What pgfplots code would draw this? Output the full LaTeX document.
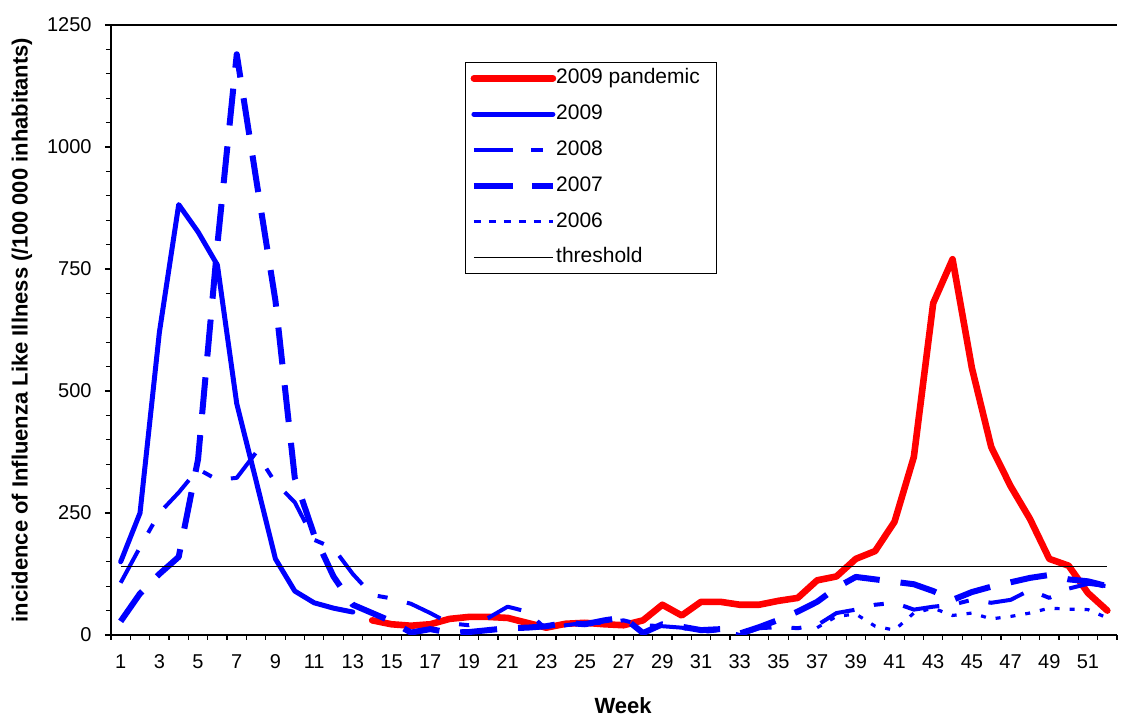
\documentclass[border=0pt]{standalone}
\usepackage{fontspec}
\setmainfont{Liberation Sans}
\usepackage{pgfplots}
\pgfplotsset{compat=1.18}
\definecolor{exred}{RGB}{255,0,0}
\definecolor{exblue}{RGB}{0,0,255}
\begin{document}
\begin{tikzpicture}
\begin{axis}[
  scale only axis, width=503pt, height=305pt,
  xmin=0.5, xmax=52.5, ymin=0, ymax=1250,
  axis x line*=bottom, axis y line*=left,
  axis line style={line width=1pt, -},
  xtick={1,3,5,7,9,11,13,15,17,19,21,23,25,27,29,31,33,35,37,39,41,43,45,47,49,51},
  xticklabels={1,3,5,7,9,11,13,15,17,19,21,23,25,27,29,31,33,35,37,39,41,43,45,47,49,51},
  major x tick style={draw=none},
  minor xtick={0.5,1.5,...,52.5},
  ytick={0,250,500,750,1000,1250},
  yticklabels={0,250,500,750,1000,1250},
  minor y tick num=4,
  tick align=outside,
  major tick length=3pt, minor tick length=2.5pt,
  tick style={black, line width=0.6pt},
  every tick/.style={black, line width=0.6pt},
  ticklabel style={font=\fontsize{10}{12}\selectfont},
  yticklabel style={anchor=east, inner sep=0pt, xshift=-6.5pt},
  xticklabel style={anchor=north, inner sep=0pt, yshift=-6.5pt},
  xlabel={Week},
  ylabel={incidence of Influenza Like Illness (/100 000 inhabitants)},
  xlabel style={at={(axis description cs:0.509,-0.1164)}, anchor=center, font=\fontsize{11}{13}\selectfont\bfseries},
  ylabel style={at={(axis description cs:-0.0885,0.5)}, anchor=center, font=\fontsize{11}{13}\selectfont\bfseries},
  legend style={at={(axis description cs:0.3519,0.9393)}, anchor=north west,
    draw=black, line width=0.6pt, font=\fontsize{10.5}{12}\selectfont,
    inner xsep=2.5pt, inner ysep=3pt, row sep=8.1pt,
    nodes={inner sep=0pt, text height=7.6pt, text depth=2.2pt}},
  legend cell align=left,
  legend image code/.code={\draw[#1,overlay] (1pt,0pt) -- (37.5pt,0pt); \path (0pt,0pt) -- (39.5pt,0pt);},
  every axis plot/.append style={line join=round},
]
% 2009 pandemic
\addplot[exred, line width=3.3pt, line cap=round, line join=round] coordinates {
(14,30) (15,22) (16,19) (17,22) (18,33) (19,37) (20,37) (21,35) (22,25) (23,15)
(24,23) (25,25) (26,22) (27,20) (28,30) (29,62) (30,40) (31,68) (32,68) (33,62)
(34,62) (35,70) (36,76) (37,112) (38,120) (39,156) (40,172) (41,232) (42,365) (43,680)
(44,770) (45,547) (46,385) (47,305) (48,238) (49,156) (50,142) (51,86) (52,50)};
\addlegendentry{2009 pandemic\hspace*{6pt}}
% 2009
\addplot[exblue, line width=2.5pt, line cap=round, line join=round] coordinates {
(1,150) (2,250) (3,620) (4,882) (5,826) (6,758) (7,474) (8,316) (9,156) (10,90)
(11,66) (12,55) (13,47)};
\addlegendentry{2009}
% 2008
\addplot[exblue, line width=2pt, line join=round, dash pattern=on 18.5pt off 10pt on 5pt off 10pt] coordinates {
(1,107) (2,180) (3,250) (4,292) (5,340) (6,318) (7,322) (8,374) (9,312) (10,272)
(11,195) (12,178) (13,125) (14,82) (15,75) (16,64) (17,45) (18,24) (19,20) (20,35)
(21,58) (22,48) (23,12) (24,20) (25,25) (26,25) (27,30) (28,20) (29,18) (30,15)
(31,6) (32,10) (33,0) (34,14) (35,16) (36,14) (37,20) (38,45) (39,52) (40,62)
(41,66) (42,52) (43,58) (44,62) (45,72) (46,66) (47,72) (48,92) (49,76) (50,95)
(51,105) (52,100)};
\addlegendentry{2008}
% 2007
\addplot[exblue, line width=3pt, line join=round, dash pattern=on 18.5pt off 10.5pt] coordinates {
(1,28) (2,85) (3,125) (4,160) (5,360) (6,800) (7,1190) (8,935) (9,685) (10,322)
(11,205) (12,120) (13,62) (14,45) (15,28) (16,5) (17,12) (18,5) (19,6) (20,10)
(21,14) (22,15) (23,18) (24,25) (25,22) (26,30) (27,36) (28,4) (29,22) (30,17)
(31,10) (32,12) (33,3) (34,16) (35,31) (36,48) (37,68) (38,97) (39,119) (40,114)
(41,109) (42,104) (43,90) (44,72) (45,88) (46,99) (47,108) (48,117) (49,123) (50,114)
(51,110) (52,100)};
\addlegendentry{2007}
% 2006
\addplot[exblue, line width=1.6pt, line join=round, dash pattern=on 2.5pt off 5pt] coordinates {
(37,15) (38,38) (39,43) (40,18) (41,10) (42,45) (43,55) (44,40) (45,45) (46,33)
(47,38) (48,45) (49,55) (50,53) (51,52) (52,35)};
\addlegendentry{2006}
% threshold
\addplot[black, line width=0.8pt] coordinates {(1,140) (52,140)};
\addlegendentry{threshold}
\draw[line width=1pt] (rel axis cs:0,1) -- (rel axis cs:1,1);
\end{axis}
\pgfresetboundingbox
\useasboundingbox (-55.5pt,-40.5pt) rectangle (509.5pt,317.5pt);
\end{tikzpicture}
\end{document}
